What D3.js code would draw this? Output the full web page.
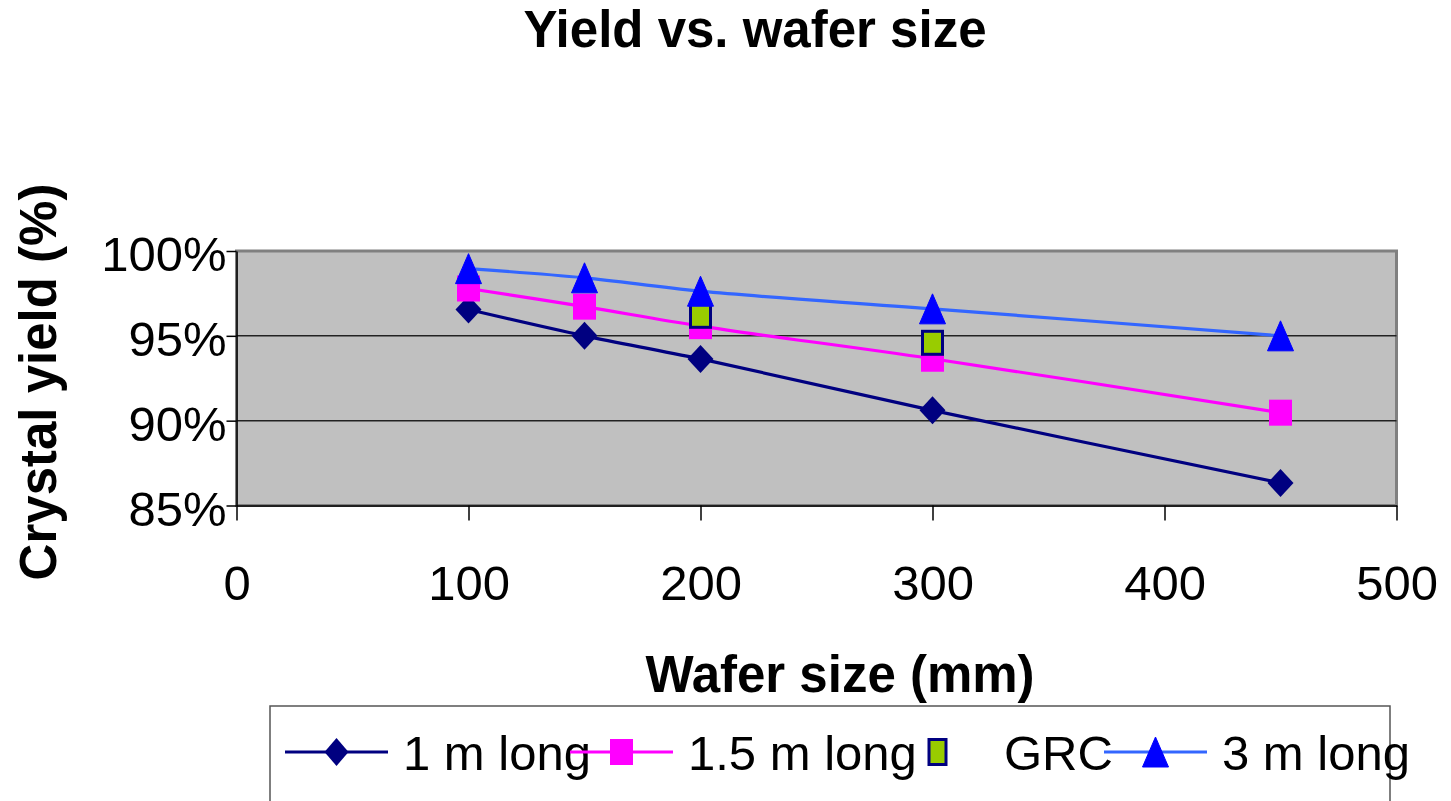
<!DOCTYPE html>
<html>
<head>
<meta charset="utf-8">
<script src="https://cdn.jsdelivr.net/npm/d3@7"></script>
<style>
  body { margin: 0; background: #fff; }
  svg { display: block; font-family: Arial, "Liberation Sans", sans-serif; }
</style>
</head>
<body>
<script>
// values
const waferSizes = [100, 150, 200, 300, 450];
const oneMeter = [96.55, 95.0, 93.64, 90.61, 86.33];
const onePointFiveMeter = [97.79, 96.72, 95.57, 93.65, 90.47];
const grcSizes = [200, 300];
const grcYield = [96.18, 94.59];
const threeMeter = [98.96, 98.42, 97.63, 96.59, 95.0];
const seriesNames = ['1 m long', '1.5 m long', 'GRC', '3 m long'];
const xTicks = [0, 100, 200, 300, 400, 500];
const yTicks = [85, 90, 95, 100];
const gridValues = [90, 95];

const width = 1451;
const height = 801;

const svg = d3.select('body')
  .append('svg')
  .attr('width', width)
  .attr('height', height);

const x = d3.scaleLinear().domain([0, 500]).range([236.5, 1396.5]);
const y = d3.scaleLinear().domain([85, 100]).range([505.5, 251]);

// marker shapes
const diamondPath = (w, h) => `M0,${-h / 2}L${w / 2},0L0,${h / 2}L${-w / 2},0Z`;
const trianglePath = (w, h) => `M0,${-h / 2}L${w / 2},${h / 2}L${-w / 2},${h / 2}Z`;

const drawMarker = (g, kind, big) => {
  if (kind === 'diamond') {
    g.append('path').attr('d', big ? diamondPath(26, 28) : diamondPath(24, 28)).attr('fill', '#000080');
  } else if (kind === 'square') {
    g.append('rect').attr('x', -11.5).attr('y', -13).attr('width', 23).attr('height', 26).attr('fill', '#FF00FF');
  } else if (kind === 'grc') {
    const w = big ? 20 : 17, h = big ? 23 : 25;
    g.append('rect').attr('x', -w / 2).attr('y', -h / 2).attr('width', w).attr('height', h)
      .attr('fill', '#99CC00').attr('stroke', '#000080').attr('stroke-width', 3);
  } else if (kind === 'triangle') {
    g.append('path').attr('d', trianglePath(26, 30)).attr('fill', '#0000FF')
      .attr('stroke', '#0000FF').attr('stroke-width', 1).attr('stroke-linejoin', 'round');
  }
};

const series = [
  { name: seriesNames[0], xs: waferSizes, ys: oneMeter, line: '#000080', marker: 'diamond' },
  { name: seriesNames[1], xs: waferSizes, ys: onePointFiveMeter, line: '#FF00FF', marker: 'square' },
  { name: seriesNames[2], xs: grcSizes, ys: grcYield, line: null, marker: 'grc' },
  { name: seriesNames[3], xs: waferSizes, ys: threeMeter, line: '#3366FF', marker: 'triangle' }
];

// Title
svg.append('text')
  .attr('x', 755)
  .attr('y', 47)
  .attr('text-anchor', 'middle')
  .style('font-size', '51px')
  .style('font-weight', 'bold')
  .text('Yield vs. wafer size');

// Plot area
svg.append('rect')
  .attr('x', x(0))
  .attr('y', y(100))
  .attr('width', x(500) - x(0))
  .attr('height', y(85) - y(100))
  .attr('fill', '#C0C0C0')
  .attr('stroke', '#808080')
  .attr('stroke-width', 3);

// Gridlines
svg.selectAll('line.grid')
  .data(gridValues)
  .enter()
  .append('line')
  .attr('class', 'grid')
  .attr('x1', x(0))
  .attr('x2', x(500))
  .attr('y1', d => y(d))
  .attr('y2', d => y(d))
  .attr('stroke', '#222')
  .attr('stroke-width', 1.5);

// Y axis
const yAxis = svg.append('g')
  .attr('transform', `translate(${x(0)},0)`)
  .call(d3.axisLeft(y).tickValues(yTicks).tickSize(10).tickSizeOuter(0).tickPadding(0)
    .tickFormat(d => d + '%'));
yAxis.select('.domain').attr('stroke', '#000').attr('stroke-width', 1.5);
yAxis.selectAll('.tick line').attr('stroke', '#000').attr('stroke-width', 1.5);
yAxis.selectAll('.tick text')
  .attr('dy', '0.4em')
  .style('font-size', '49px')
  .style('font-family', 'Arial, "Liberation Sans", sans-serif')
  .attr('fill', '#000');

// X axis
const xAxis = svg.append('g')
  .attr('transform', `translate(0,${y(85)})`)
  .call(d3.axisBottom(x).tickValues(xTicks).tickSize(15).tickSizeOuter(0).tickPadding(45));
xAxis.select('.domain').attr('stroke', '#000').attr('stroke-width', 1.5);
xAxis.selectAll('.tick line').attr('stroke', '#000').attr('stroke-width', 1.5);
xAxis.selectAll('.tick text')
  .style('font-size', '49px')
  .style('font-family', 'Arial, "Liberation Sans", sans-serif')
  .attr('fill', '#000');

// Axis labels
svg.append('text')
  .attr('x', 840)
  .attr('y', 692)
  .attr('text-anchor', 'middle')
  .style('font-size', '51px')
  .style('font-weight', 'bold')
  .text('Wafer size (mm)');

svg.append('text')
  .attr('transform', 'translate(56,382) rotate(-90)')
  .attr('text-anchor', 'middle')
  .style('font-size', '51px')
  .style('font-weight', 'bold')
  .text('Crystal yield (%)');

// Lines
const lineGen = d3.line().curve(d3.curveCatmullRom);
series.filter(s => s.line).forEach(s => {
  svg.append('path')
    .attr('d', lineGen(s.xs.map((v, i) => [x(v), y(s.ys[i])])))
    .attr('fill', 'none')
    .attr('stroke', s.line)
    .attr('stroke-width', 3.2);
});

// Markers
series.forEach(s => {
  s.xs.forEach((v, i) => {
    const g = svg.append('g').attr('transform', `translate(${x(v)},${y(s.ys[i])})`);
    drawMarker(g, s.marker, true);
  });
});

// Legend
const legendLeft = 270, legendTop = 706;
svg.append('rect')
  .attr('x', legendLeft)
  .attr('y', legendTop)
  .attr('width', 1120)
  .attr('height', 140)
  .attr('fill', '#fff')
  .attr('stroke', '#555')
  .attr('stroke-width', 1.5);

const legendStarts = [285, 570, 886, 1104];
const legendRowY = 752;
series.forEach((s, i) => {
  const x0 = legendStarts[i];
  svg.append('text')
    .attr('x', x0 + 118)
    .attr('y', 770)
    .style('font-size', '49px')
    .text(s.name);
});
series.forEach((s, i) => {
  const x0 = legendStarts[i];
  if (s.line) {
    svg.append('line')
      .attr('x1', x0).attr('x2', x0 + 103)
      .attr('y1', legendRowY).attr('y2', legendRowY)
      .attr('stroke', s.line)
      .attr('stroke-width', 3.2);
  }
  const g = svg.append('g').attr('transform', `translate(${x0 + 51.5},${legendRowY})`);
  drawMarker(g, s.marker, false);
});
</script>
</body>
</html>
